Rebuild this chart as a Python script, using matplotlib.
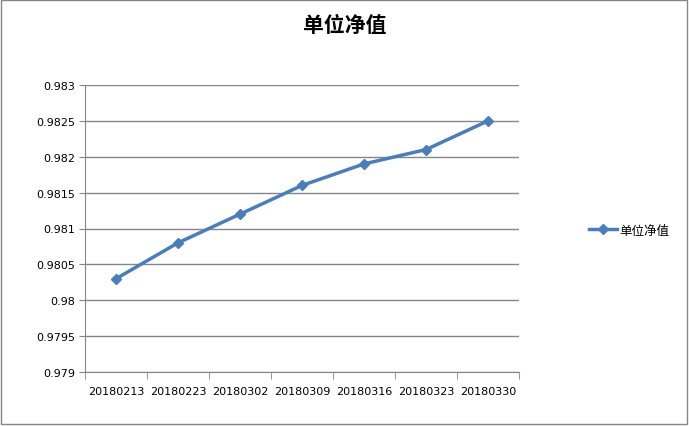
import matplotlib
matplotlib.use("Agg")
import matplotlib.pyplot as plt
from matplotlib.patches import Rectangle

plt.rcParams['font.family'] = ['Noto Sans CJK SC', 'DejaVu Sans']

dates = ["20180213", "20180223", "20180302", "20180309", "20180316", "20180323", "20180330"]
values = [0.9803, 0.9808, 0.9812, 0.9816, 0.9819, 0.9821, 0.9825]
yticks = [0.979, 0.9795, 0.98, 0.9805, 0.981, 0.9815, 0.982, 0.9825, 0.983]
ytick_labels = ["0.979", "0.9795", "0.98", "0.9805", "0.981", "0.9815", "0.982", "0.9825", "0.983"]
series_name = "单位净值"

fig = plt.figure(figsize=(6.89, 4.27), dpi=100)
ax = fig.add_axes([85/689, 1-373/427, (519-85)/689, (373-86)/427])

x = list(range(len(dates)))
ax.plot(x, values, color='#4A7EBB', linewidth=2.5, marker='D', markersize=5.5,
        label=series_name, zorder=3)

ax.set_xlim(-0.5, len(dates)-0.5)
ax.set_ylim(0.979, 0.983)
ax.set_yticks(yticks)
ax.set_yticklabels(ytick_labels, fontsize=8, family=['DejaVu Sans'])
ax.set_xticks(x)
ax.set_xticklabels(dates, fontsize=8, family=['DejaVu Sans'])
ax.set_xticks([i-0.5 for i in range(len(dates)+1)], minor=True)
ax.tick_params(axis='x', which='major', length=0, pad=10)
ax.tick_params(axis='x', which='minor', length=5, color='#868686')
ax.tick_params(axis='y', length=4, color='#868686', pad=3)
ax.yaxis.grid(True, color='#868686', linewidth=1)
ax.set_axisbelow(True)
for s in ['top', 'right']:
    ax.spines[s].set_visible(False)
for s in ['left', 'bottom']:
    ax.spines[s].set_color('#868686')

fig.text(345/689, 1-25/427, series_name, ha='center', va='center', fontsize=15, fontweight='bold')

fig.legend(loc='center left', bbox_to_anchor=(583/689, 1-231/427), frameon=False,
           fontsize=9, handlelength=2.2, handletextpad=0.2, borderpad=0)

fig.patches.append(Rectangle((0.002, 0.004), 0.995, 0.993, transform=fig.transFigure,
                             fill=False, edgecolor='#868686', linewidth=1))

fig.savefig("out.png", dpi=100)
